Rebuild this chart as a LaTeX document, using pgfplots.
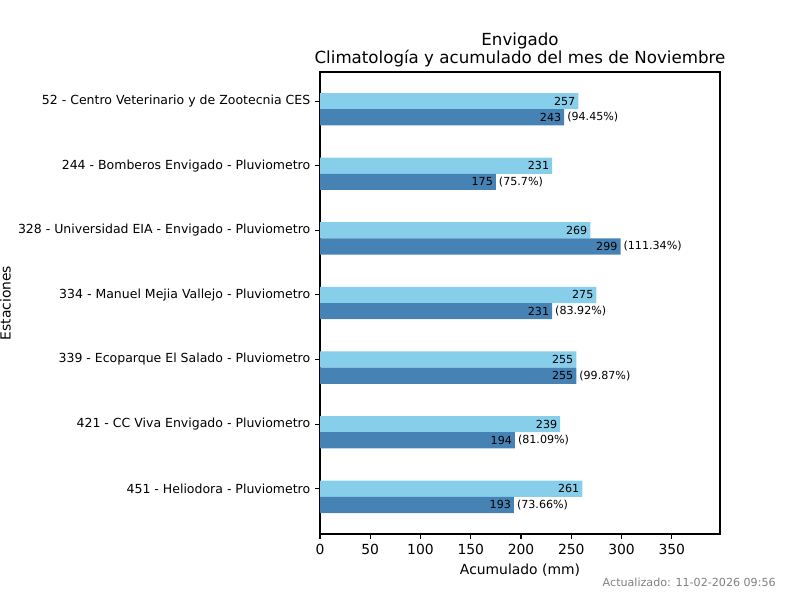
\documentclass[border=0pt]{standalone}
\usepackage{pgfplots}
\pgfplotsset{compat=1.18}
\usepackage{fontspec}
\setmainfont{DejaVu Sans}
\definecolor{clim}{HTML}{87CEEB}
\definecolor{acum}{HTML}{4682B4}
\begin{document}
\begin{tikzpicture}
% 800x600 px at 100 dpi -> 1px = 0.72pt
\path[use as bounding box] (0,0) rectangle (576pt,432pt);
\begin{axis}[
    at={(230.4pt,47.52pt)}, anchor=south west,
    scale only axis, width=288pt, height=332.64pt,
    xmin=0, xmax=398, ymin=-0.7, ymax=6.45,
    xtick={0,50,...,350},
    ytick={0,...,6},
    yticklabels={451 - Heliodora - Pluviometro,
                 421 - CC Viva Envigado - Pluviometro,
                 339 - Ecoparque El Salado - Pluviometro,
                 334 - Manuel Mejia Vallejo - Pluviometro,
                 328 - Universidad EIA - Envigado - Pluviometro,
                 244 - Bomberos Envigado - Pluviometro,
                 52 - Centro Veterinario y de Zootecnia CES},
    tick align=outside, major tick length=3.5pt,
    xtick pos=bottom, ytick pos=left,
    tick style={black, line width=0.8pt},
    axis line style={line width=0.8pt},
    xticklabel style={font=\fontsize{10}{12}\selectfont},
    yticklabel style={font=\fontsize{9}{11}\selectfont},
    /pgf/number format/assume math mode=true,
    xlabel={Acumulado (mm)},
    xlabel style={font=\fontsize{10}{12}\selectfont},
    title={Envigado\\Climatología y acumulado del mes de Noviembre},
    title style={align=center, font=\fontsize{12}{13}\selectfont, yshift=-6pt},
    xbar, bar width=0.25, bar shift=0,
    nodes near coords style={font=\fontsize{8}{9}\selectfont, black},
]
% Climatologia
\addplot[fill=clim, draw=none,
    nodes near coords, point meta=x,
    every node near coord/.append style={anchor=east, inner sep=2pt}]
  coordinates {(261,0) (239,1) (255,2) (275,3) (269,4) (231,5) (257,6)};
% Acumulado
\addplot[fill=acum, draw=none,
    nodes near coords, point meta=x,
    every node near coord/.append style={anchor=east, inner sep=2pt}]
  coordinates {(193,-0.25) (194,0.75) (255,1.75) (231,2.75) (299,3.75) (175,4.75) (243,5.75)};
% Porcentaje respecto a la climatologia
\addplot[draw=none, fill=none,
    nodes near coords={(\pgfplotspointmeta\%)}, point meta=explicit symbolic,
    every node near coord/.append style={anchor=west, inner sep=2pt}]
  coordinates {(193,-0.25) [73.66] (194,0.75) [81.09] (255,1.75) [99.87]
               (231,2.75) [83.92] (299,3.75) [111.34] (175,4.75) [75.7]
               (243,5.75) [94.45]};
\end{axis}
\node[rotate=90, font=\fontsize{10}{12}\selectfont, inner sep=0pt]
  at (4pt,213.8pt) {Estaciones};
\node[anchor=east, text=gray, font=\fontsize{8}{9}\selectfont, inner sep=0pt]
  at (558.7pt,12.96pt) {Actualizado: 11-02-2026 09:56};
\end{tikzpicture}
\end{document}
